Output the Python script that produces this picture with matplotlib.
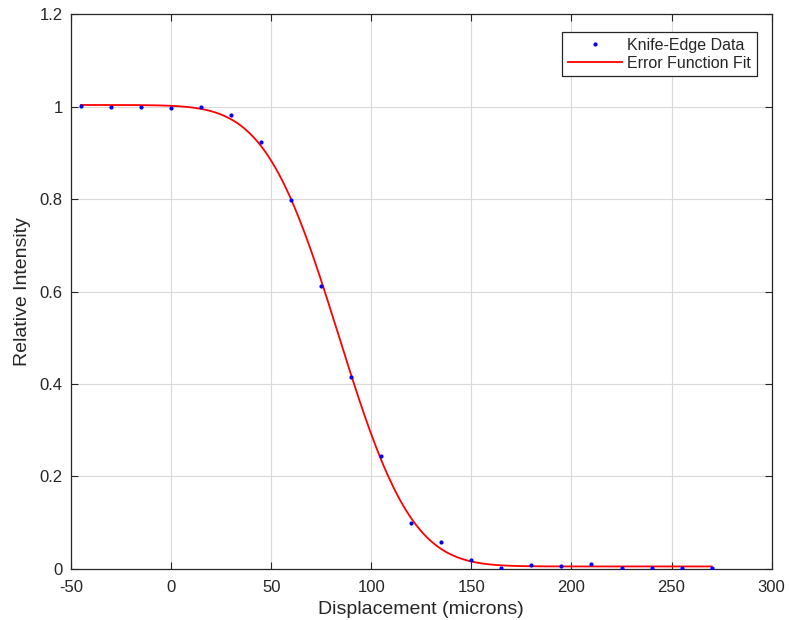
import math
import numpy as np
import matplotlib
matplotlib.use("Agg")
import matplotlib.pyplot as plt

displacement = [-45, -30, -15, 0, 15, 30, 45, 60, 75, 90, 105, 120, 135,
                150, 165, 180, 195, 210, 225, 240, 255, 270]
intensity = [1.001, 1.000, 1.000, 0.997, 1.000, 0.981, 0.923, 0.797, 0.613,
             0.416, 0.244, 0.099, 0.058, 0.019, 0.003, 0.009, 0.007, 0.010,
             0.002, 0.002, 0.002, 0.002]

x_ticks = [-50, 0, 50, 100, 150, 200, 250, 300]
y_ticks = [0, 0.2, 0.4, 0.6, 0.8, 1.0, 1.2]
y_tick_labels = ["0", "0.2", "0.4", "0.6", "0.8", "1", "1.2"]

xd = np.array(displacement, dtype=float)
yd = np.array(intensity, dtype=float)
erf = np.vectorize(math.erf)


def basis(x, c, w):
    return 0.5 * (1 - erf((x - c) / w))


# least-squares error-function fit: grid search on centre/width, linear amp/offset
best = None
for c in np.arange(70, 100, 0.25):
    for w in np.arange(25, 60, 0.25):
        g = basis(xd, c, w)
        A = np.column_stack([g, np.ones_like(g)])
        coef, *_ = np.linalg.lstsq(A, yd, rcond=None)
        r = np.sum((A @ coef - yd) ** 2)
        if best is None or r < best[0]:
            best = (r, c, w, coef)
_, c0, w0, (amp, off) = best
xf = np.linspace(xd.min(), xd.max(), 400)
yf = amp * basis(xf, c0, w0) + off

plt.rcParams['font.family'] = ['Liberation Sans', 'DejaVu Sans']
plt.rcParams['axes.unicode_minus'] = False
txt = '#262626'
fig = plt.figure(figsize=(7.89, 6.2), dpi=100)
ax = fig.add_axes([0.090, 0.0823, 0.888, 0.895])

ax.plot(xd, yd, '.', color='blue', markersize=4, label='Knife-Edge Data', zorder=3)
ax.plot(xf, yf, '-', color='red', linewidth=1.3, label='Error Function Fit', zorder=2)

ax.set_xlim(-50, 300)
ax.set_ylim(0, 1.2)
ax.set_xticks(x_ticks)
ax.set_yticks(y_ticks)
ax.set_yticklabels(y_tick_labels)
ax.grid(True, color='#d9d9d9', linewidth=0.8)
ax.set_axisbelow(True)
ax.tick_params(direction='in', top=True, right=True, length=5, width=0.8,
               labelsize=12, labelcolor=txt, colors='#262626')
ax.tick_params(axis='x', pad=8)
ax.tick_params(axis='y', pad=6)
for s in ax.spines.values():
    s.set_color('#262626')
    s.set_linewidth(0.9)
ax.set_xlabel('Displacement (microns)', fontsize=14, color=txt, labelpad=4)
ax.set_ylabel('Relative Intensity', fontsize=14, color=txt, labelpad=6)

leg = ax.legend(loc='upper right', bbox_to_anchor=(0.9786, 0.9676),
                fontsize=11.5, frameon=True, fancybox=False,
                edgecolor='#262626', framealpha=1, borderpad=0.35,
                handlelength=3.4, handletextpad=0.3, borderaxespad=0.0,
                labelspacing=0.2, markerscale=1.0)
leg.get_frame().set_linewidth(0.9)
for t in leg.get_texts():
    t.set_color(txt)

fig.savefig('out.png', dpi=100)
